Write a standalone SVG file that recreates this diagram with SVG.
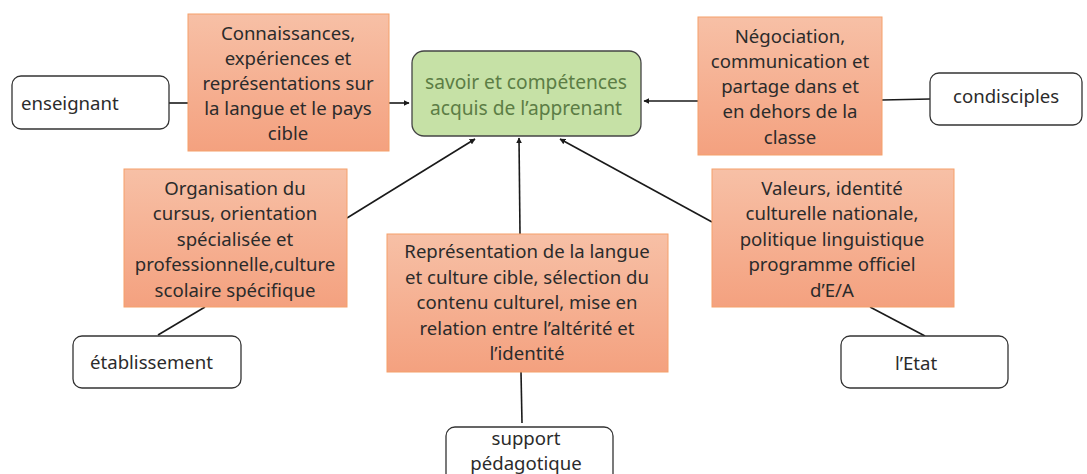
<svg xmlns="http://www.w3.org/2000/svg" width="1087" height="474" viewBox="0 0 1087 474">
<style>
.t{font-family:"Noto Sans","DejaVu Sans",sans-serif;font-size:18.6px;fill:#2b2b2b;}
.c{text-anchor:middle;}
.g{fill:#5c7d45;font-size:19.2px;}
.o{fill:url(#og);stroke:#f5a06a;stroke-width:1;}
.w{fill:#fff;stroke:#333;stroke-width:1.3;}
.ln{stroke:#1a1a1a;stroke-width:1.6;fill:none;}
</style>
<defs>
<linearGradient id="og" x1="0" y1="0" x2="0" y2="1">
<stop offset="0" stop-color="#f7c0a6"/>
<stop offset="1" stop-color="#f4a17f"/>
</linearGradient>
<marker id="ar" viewBox="0 0 10 10" refX="9" refY="5" markerWidth="6" markerHeight="6" orient="auto" markerUnits="userSpaceOnUse">
<path d="M0,0 L10,5 L0,10 z" fill="#1a1a1a"/>
</marker>
</defs>
<rect width="1087" height="474" fill="#fff"/>
<g id="connectors">
<line class="ln" x1="169" y1="103" x2="188" y2="103"/>
<line class="ln" x1="389" y1="103" x2="409" y2="103" marker-end="url(#ar)"/>
<line class="ln" x1="882" y1="100" x2="930" y2="99"/>
<line class="ln" x1="698" y1="101" x2="644" y2="101" marker-end="url(#ar)"/>
<line class="ln" x1="347" y1="218" x2="475" y2="139" marker-end="url(#ar)"/>
<line class="ln" x1="205" y1="307" x2="158" y2="335"/>
<line class="ln" x1="520" y1="234" x2="519" y2="138" marker-end="url(#ar)"/>
<line class="ln" x1="521" y1="372" x2="522" y2="423"/>
<line class="ln" x1="712" y1="222" x2="560" y2="139" marker-end="url(#ar)"/>
<line class="ln" x1="870" y1="307" x2="925" y2="336"/>
</g>
<g id="center">
<rect x="412" y="51" width="229" height="85" rx="12" fill="#c6e1a6" stroke="#444" stroke-width="1.3"/>
<text class="t c g" x="526" y="89">savoir et compétences</text>
<text class="t c g" x="526" y="115">acquis de l’apprenant</text>
</g>
<g id="enseignant">
<rect class="w" x="12" y="76" width="157" height="53" rx="9"/>
<text class="t" x="21" y="110">enseignant</text>
</g>
<g id="connaissances">
<rect class="o" x="188" y="14" width="201" height="137"/>
<text class="t c" x="288" y="40">Connaissances,</text>
<text class="t c" x="288" y="65">expériences et</text>
<text class="t c" x="288" y="90">représentations sur</text>
<text class="t c" x="288" y="115">la langue et le pays</text>
<text class="t c" x="288" y="140">cible</text>
</g>
<g id="negociation">
<rect class="o" x="698" y="17" width="184" height="138"/>
<text class="t c" x="790" y="43">Négociation,</text>
<text class="t c" x="790" y="68">communication et</text>
<text class="t c" x="790" y="93">partage dans et</text>
<text class="t c" x="790" y="118">en dehors de la</text>
<text class="t c" x="790" y="144">classe</text>
</g>
<g id="condisciples">
<rect class="w" x="930" y="73" width="152" height="52" rx="9"/>
<text class="t" x="953" y="103">condisciples</text>
</g>
<g id="organisation">
<rect class="o" x="124" y="169" width="223" height="138"/>
<text class="t c" x="235" y="195">Organisation du</text>
<text class="t c" x="235" y="220">cursus, orientation</text>
<text class="t c" x="235" y="246">spécialisée et</text>
<text class="t c" x="235" y="271">professionnelle,culture</text>
<text class="t c" x="235" y="297">scolaire spécifique</text>
</g>
<g id="etablissement">
<rect class="w" x="73" y="336" width="168" height="52" rx="9"/>
<text class="t" x="90" y="369">établissement</text>
</g>
<g id="representation">
<rect class="o" x="387" y="234" width="281" height="138"/>
<text class="t c" x="527" y="258">Représentation de la langue</text>
<text class="t c" x="527" y="284">et culture cible, sélection du</text>
<text class="t c" x="527" y="309">contenu culturel, mise en</text>
<text class="t c" x="527" y="335">relation entre l’altérité et</text>
<text class="t c" x="527" y="360">l’identité</text>
</g>
<g id="support">
<rect class="w" x="446" y="427" width="167" height="60" rx="9"/>
<text class="t c" x="526" y="445">support</text>
<text class="t c" x="526" y="470">pédagotique</text>
</g>
<g id="valeurs">
<rect class="o" x="712" y="169" width="242" height="138"/>
<text class="t c" x="832" y="195">Valeurs, identité</text>
<text class="t c" x="832" y="220">culturelle nationale,</text>
<text class="t c" x="832" y="246">politique linguistique</text>
<text class="t c" x="832" y="271">programme officiel</text>
<text class="t c" x="832" y="297">d’E/A</text>
</g>
<g id="etat">
<rect class="w" x="841" y="336" width="167" height="52" rx="9"/>
<text class="t c" x="916" y="370">l’Etat</text>
</g>
</svg>
